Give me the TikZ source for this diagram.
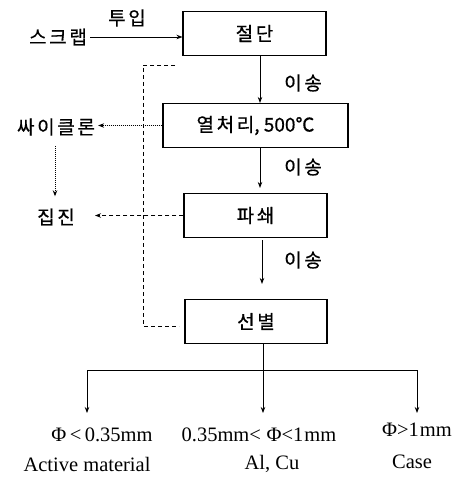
\documentclass[tikz,border=0pt]{standalone}
\usepackage{fontspec}
\setmainfont{Liberation Serif}
\newfontfamily\kr[LetterSpace=14,FakeBold=0.6]{Noto Sans CJK KR}
\newfontfamily\krn[FakeBold=0.6]{Noto Sans CJK KR}
\usetikzlibrary{arrows.meta}
\tikzset{
  procbox/.style={draw, line width=1.1pt, minimum height=44pt, inner sep=0pt, font=\kr\fontsize{19}{22}\selectfont},
  kor/.style={inner sep=0pt, font=\kr\fontsize{19}{22}\selectfont},
  eng/.style={inner sep=0pt, font=\fontsize{20.5}{24}\selectfont},
  flow/.style={line width=0.8pt, -{Stealth[length=6pt,width=4.5pt]}},
  dotflow/.style={line width=0.9pt, dash pattern=on 1pt off 1pt, -{Stealth[length=6pt,width=4.5pt]}},
  dashflow/.style={line width=0.9pt, dash pattern=on 4pt off 3pt, -{Stealth[length=6pt,width=4.5pt]}},
  dashline/.style={line width=0.9pt, dash pattern=on 4pt off 3pt},
}
\begin{document}
\begin{tikzpicture}[x=1pt,y=-1pt]
\useasboundingbox[fill=white] (0,0) rectangle (464,489);
% boxes
\node[procbox, minimum width=143pt] (cut) at (254.5,33.5) {절단};
\node[procbox, minimum width=185pt] (heat) at (255.5,125.5) {열처리{\krn,\ 500℃}};
\node[procbox, minimum width=143pt] (crush) at (255.5,215.5) {파쇄};
\node[procbox, minimum width=142pt] (sort) at (256,321.5) {선별};
% side labels
\node[kor] (scrap) at (58,37) {스크랩};
\node[kor] (input) at (127,18) {투입};
\node[kor] (cyc) at (56,127) {싸이클론};
\node[kor] (dust) at (56,217) {집진};
\node[kor] (t1) at (303,83) {이송};
\node[kor] (t2) at (303,167) {이송};
\node[kor] (t3) at (303,260) {이송};
% flow arrows
\draw[flow] ([xshift=3pt]scrap.east) -- (scrap.east -| cut.west);
\draw[flow] ([xshift=5.5pt]cut.south) -- ([xshift=4.5pt]heat.north);
\draw[flow] ([xshift=4.5pt]heat.south) -- ([xshift=4.5pt,yshift=5pt]crush.north);
\draw[flow] ([xshift=6.5pt,yshift=-2pt]crush.south) -- ([xshift=6pt,yshift=15pt]sort.north);
% side arrows
\draw[dotflow] (heat.west) -- ([xshift=3pt]cyc.east |- heat.west);
\draw[dotflow] ([xshift=-1pt,yshift=-10pt]cyc.south) -- ([xshift=-1pt,yshift=12pt]dust.north);
\draw[dashflow] (crush.west) -- ([xshift=20pt]dust.east |- crush.west);
% dashed return line
\coordinate (d1) at (175,65);
\coordinate (d2) at (143,65);
\coordinate (d3) at (143,326);
\coordinate (d4) at (179,326);
\draw[dashline] (d1) -- (d2) -- (d3) -- (d4);
% distribution
\coordinate (jc) at (263,370);
\coordinate (jl) at (87,370);
\coordinate (jr) at (417,370);
\coordinate (el) at (87,413);
\coordinate (ec) at (263,413);
\coordinate (er) at (417,413);
\draw[line width=0.9pt] ([xshift=7pt]sort.south) -- (jc);
\draw[line width=0.9pt] (jl) -- (jr);
\draw[flow] (jl) -- (el);
\draw[flow] (jc) -- (ec);
\draw[flow] (jr) -- (er);
% result labels
\node[eng] (r1a) at (102,435) {Φ\,<\,0.35mm};
\node[eng] (r2a) at (259,435) {0.35mm<\;Φ<1\kern1pt mm};
\node[eng] (r3a) at (417,430) {Φ>1\kern1pt mm};
\node[eng] (r1b) at (87,464) {Active material};
\node[eng] (r2b) at (272,464) {Al, Cu};
\node[eng] (r3b) at (412,462) {Case};
\end{tikzpicture}
\end{document}
